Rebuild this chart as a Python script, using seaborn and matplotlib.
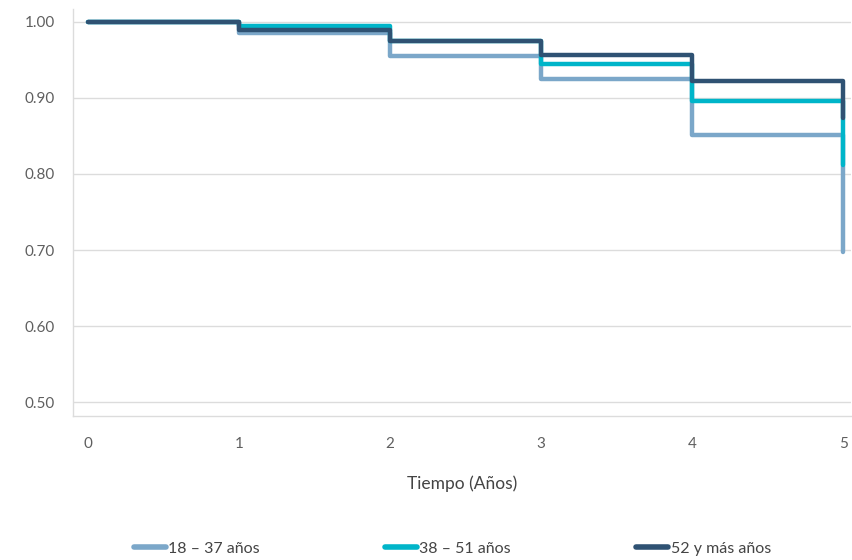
import pandas as pd
import matplotlib
matplotlib.use("Agg")
import matplotlib.pyplot as plt
import seaborn as sns

# Datos (supervivencia por grupo de edad)
tiempo = [0, 1, 2, 3, 4, 5]
grupo_18_37 = [1.000, 0.985, 0.955, 0.925, 0.851, 0.697]
grupo_38_51 = [1.000, 0.995, 0.975, 0.945, 0.896, 0.812]
grupo_52_mas = [1.000, 0.989, 0.975, 0.957, 0.922, 0.874]
grupos = ["18 – 37 años", "38 – 51 años", "52 y más años"]
y_ticks = [0.50, 0.60, 0.70, 0.80, 0.90, 1.00]

df = pd.DataFrame({
    "tiempo": tiempo * 3,
    "valor": grupo_18_37 + grupo_38_51 + grupo_52_mas,
    "grupo": [grupos[0]] * 6 + [grupos[1]] * 6 + [grupos[2]] * 6,
})

sns.set_theme(style="white")
plt.rcParams["font.family"] = ["Lato", "DejaVu Sans"]

colores = {grupos[0]: "#7ba7c9", grupos[1]: "#00b5c9", grupos[2]: "#2f5273"}
gris = "#5f5f5f"
linea = "#dcdcdc"

fig = plt.figure(figsize=(8.52, 5.6), dpi=100)
ax = fig.add_axes([0.0857, 0.257, 0.913, 0.727])

sns.lineplot(data=df, x="tiempo", y="valor", hue="grupo", palette=colores,
             drawstyle="steps-post", linewidth=3.2, solid_capstyle="round",
             solid_joinstyle="round", ax=ax, legend=False)

ax.set_xlim(-0.1, 5.05)
ax.set_ylim(0.4816, 1.017)
ax.set_yticks(y_ticks)
ax.set_yticklabels([f"{v:.2f}" for v in y_ticks])
ax.set_xticks(tiempo)
ax.grid(axis="y", color=linea, linewidth=1)
ax.set_axisbelow(True)

for lado in ["top", "right"]:
    ax.spines[lado].set_visible(False)
for lado in ["left", "bottom"]:
    ax.spines[lado].set_color(linea)
    ax.spines[lado].set_linewidth(1)

ax.tick_params(axis="both", colors=linea, length=7, width=1, labelcolor=gris,
               labelsize=11)
ax.tick_params(axis="y", pad=6)
ax.tick_params(axis="x", pad=8)

ax.set_xlabel("Tiempo (Años)", fontsize=12.5, color="#444444", labelpad=18)
ax.set_ylabel("")

# Leyenda
handles = [plt.Line2D([], [], color=colores[g], linewidth=4, solid_capstyle="round")
           for g in grupos]
fig.legend(handles, grupos, loc="lower center", bbox_to_anchor=(0.531, -0.018),
           ncol=3, frameon=False, fontsize=11.5, handlelength=2.0,
           handletextpad=0.15, columnspacing=7.85, labelcolor="#444444")

plt.savefig("out.png", dpi=100)
